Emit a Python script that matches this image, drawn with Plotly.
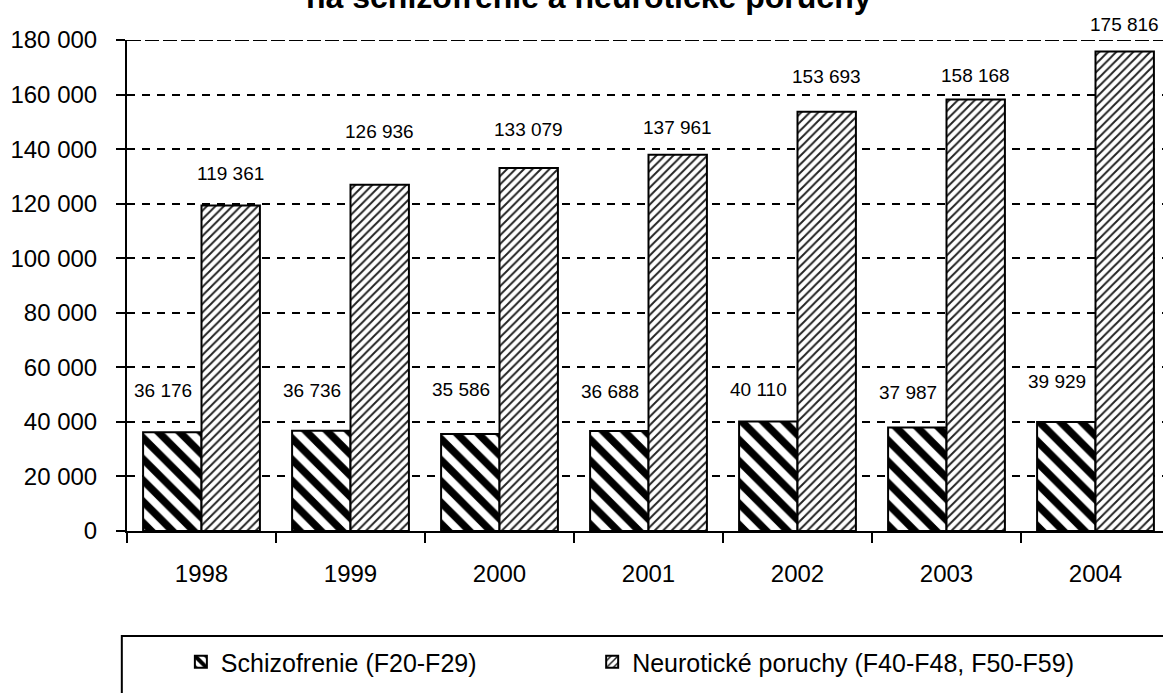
import plotly.graph_objects as go

# ── Data ──────────────────────────────────────────────────────────────────────
years = ["1998", "1999", "2000", "2001", "2002", "2003", "2004"]
schizofrenie = [36176, 36736, 35586, 36688, 40110, 37987, 39929]
neuroticke = [119361, 126936, 133079, 137961, 153693, 158168, 175816]

name_schizo = "Schizofrenie (F20-F29)"
name_neuro = "Neurotické poruchy (F40-F48, F50-F59)"
title_text = "na schizofrenie a neurotické poruchy"

y_ticks = [0, 20000, 40000, 60000, 80000, 100000, 120000, 140000, 160000, 180000]

# label offsets in px (the source chart places them by hand)
schizo_label_shift = [42, 40, 44, 39, 32, 35, 41]
neuro_label_shift = [32, 53, 38, 27, 35, 24, 27]

FONT = "Liberation Sans, Arial, sans-serif"


def fmt(v):
    return f"{v:,}".replace(",", " ")


fig = go.Figure()

fig.add_trace(go.Bar(
    x=years, y=schizofrenie, name=name_schizo, legend="legend",
    marker=dict(
        color="white",
        line=dict(color="black", width=2),
        pattern=dict(shape="\\", fgcolor="black", bgcolor="white",
                     fgopacity=1, size=15, solidity=0.5),
    ),
))
fig.add_trace(go.Bar(
    x=years, y=neuroticke, name=name_neuro, legend="legend2",
    marker=dict(
        color="white",
        line=dict(color="black", width=2),
        pattern=dict(shape="/", fgcolor="#222222", bgcolor="white",
                     fgopacity=1, size=6, solidity=0.32),
    ),
))

# value labels (category axis -> use the category index as x)
for i, (v, s) in enumerate(zip(schizofrenie, schizo_label_shift)):
    fig.add_annotation(
        x=i, y=v, xref="x", yref="y", text=fmt(v), showarrow=False,
        xshift=-39, yshift=s, yanchor="middle",
        font=dict(family=FONT, size=19, color="black"),
    )
for i, (v, s) in enumerate(zip(neuroticke, neuro_label_shift)):
    fig.add_annotation(
        x=i, y=v, xref="x", yref="y", text=fmt(v), showarrow=False,
        xshift=29, yshift=s, yanchor="middle",
        font=dict(family=FONT, size=19, color="black"),
    )

# title (only its second line is visible in the source crop)
fig.add_annotation(
    x=0.446, y=1.047, xref="paper", yref="paper", text=f"<b>{title_text}</b>",
    showarrow=False, xanchor="center", yanchor="bottom",
    font=dict(family=FONT, size=32, color="black"),
)

# top gridline at the end of the range
fig.add_shape(
    type="line", xref="paper", yref="y", x0=0, x1=1,
    y0=y_ticks[-1], y1=y_ticks[-1],
    line=dict(color="black", width=2, dash="14px,4px"),
)

# legend frame
fig.add_shape(
    type="rect", xref="paper", yref="paper",
    x0=-0.005, x1=1.02, y0=-0.214, y1=-0.36,
    line=dict(color="black", width=2), fillcolor="rgba(0,0,0,0)",
)

legend_style = dict(
    orientation="h", xanchor="left", yanchor="middle", y=-0.267,
    font=dict(family=FONT, size=25, color="black"),
    bgcolor="rgba(0,0,0,0)",
)

fig.update_layout(
    width=1163, height=693,
    margin=dict(l=127, r=0, t=40, b=162),
    paper_bgcolor="white", plot_bgcolor="white",
    barmode="group", bargap=0.216, bargroupgap=0,
    separators=", ",
    showlegend=True,
    legend=dict(x=0.052, **legend_style),
    legend2=dict(x=0.449, **legend_style),
)

fig.update_yaxes(
    range=[0, 180000], tickvals=y_ticks, tickformat=",d", automargin=False,
    showline=True, linecolor="black", linewidth=2,
    ticks="outside", ticklen=9, tickwidth=2, tickcolor="black",
    showgrid=True, gridcolor="black", gridwidth=2, griddash="8px,7px",
    zeroline=False, ticklabelstandoff=14,
    tickfont=dict(family=FONT, size=24, color="black"),
)
fig.update_xaxes(
    type="category", range=[-0.5, 6.453], automargin=False,
    showline=True, linecolor="black", linewidth=2,
    ticks="outside", tickson="boundaries", ticklen=10, tickwidth=2, tickcolor="black",
    showgrid=False, ticklabelstandoff=20, tickangle=0,
    tickfont=dict(family=FONT, size=24, color="black"),
)

# drop the default 8px body margin so the figure sits at the window's corner
fig.write_html(
    "out.html",
    config={"displayModeBar": False},
    post_script="document.body.style.margin = '0';",
)
